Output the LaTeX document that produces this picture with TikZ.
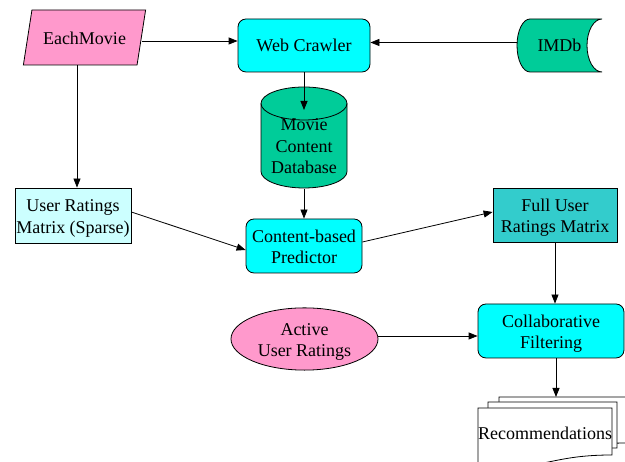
\documentclass[tikz,border=0pt]{standalone}
\usepackage{fontspec}
\setmainfont{Liberation Serif}
\usetikzlibrary{shapes.geometric,arrows.meta}
\definecolor{pinkfill}{HTML}{FF99CC}
\definecolor{cyanfill}{HTML}{00FFFF}
\definecolor{greenfill}{HTML}{00CC99}
\definecolor{palefill}{HTML}{CCFFFF}
\definecolor{tealfill}{HTML}{33CCCC}
\tikzset{flow/.style = {-{Triangle[length=9pt,width=7pt]}}}
\tikzset{proc/.style = {draw, fill=cyanfill, rounded corners=8pt, align=center, inner sep=0}}
\tikzset{grid box/.style = {draw, align=center, inner sep=0}}
\tikzset{bare/.style = {inner sep=0, align=center}}
\tikzset{two lines/.style = {text height=40pt, text depth=4pt}}

\begin{document}
\begin{tikzpicture}[x=1pt, y=1pt, line width=0.8pt, font=\fontsize{18}{21.5}\selectfont]
    \useasboundingbox (0,0) rectangle (625,462);
    \clip (0,0) rectangle (625,462);
    % shapes drawn directly
    \draw [fill=greenfill] (530,443) -- (602,443) arc [start angle=90, end angle=270, x radius=15, y radius=26.5]
        -- (530,390) arc [start angle=270, end angle=90, x radius=13, y radius=26.5] -- cycle;
    \draw [fill=greenfill] (261,358.5) -- (261,290.5) arc [start angle=180, end angle=360, x radius=43, y radius=16.5]
        -- (347,358.5) arc [start angle=0, end angle=180, x radius=43, y radius=16.5] -- cycle;
    \draw (261,358.5) arc [start angle=180, end angle=360, x radius=43, y radius=16.5];
    \draw [fill=white] (499,65) -- (627,65) -- (627,19) .. controls (563,19) and (563,1.5) .. (499,11.4) -- cycle;
    \draw [fill=white] (488,60) -- (617,60) -- (617,14) .. controls (552.5,14) and (552.5,-3.5) .. (488,6.4) -- cycle;
    \draw [fill=white] (478,54) -- (612,54) -- (612,7) .. controls (545,7) and (545,-10.9) .. (478,-0.7) -- cycle;
    % nodes
    \node [trapezium, trapezium left angle=66, trapezium right angle=114, trapezium stretches=true,
        draw, fill=pinkfill, minimum width=123, minimum height=55, inner sep=0, text height=15pt] (em) at (84.5,424.5) {EachMovie};
    \node [proc, minimum width=132, minimum height=53] (wc) at (304,416.5) {Web Crawler};
    \node [bare, minimum width=85, minimum height=53] (imdb) at (559.5,416.5) {IMDb};
    \node [bare, minimum width=86, minimum height=101] (mcd) at (304,324) {};
    \node [bare] (mcdtext) at (304,315.5) {Movie\\Content\\Database};
    \coordinate (mcdin) at (304,352);
    \node [grid box, two lines, fill=palefill, minimum width=116, minimum height=55] (urm) at (73,246.5) {User Ratings\\Matrix (Sparse)};
    \node [proc, two lines, minimum width=116, minimum height=54] (cbp) at (304,216) {Content-based\\Predictor};
    \node [grid box, two lines, fill=tealfill, minimum width=124, minimum height=54] (fur) at (555,247) {Full User\\Ratings Matrix};
    \node [ellipse, draw, two lines, fill=pinkfill, minimum width=147, minimum height=54, inner sep=0, align=center] (aur) at (304.5,123) {Active\\User Ratings};
    \node [proc, two lines, minimum width=146, minimum height=54] (cf) at (551,131) {Collaborative\\Filtering};
    \node [bare] (recs) at (545,29) {Recommendations};
    \coordinate (recstop) at (556,65);
    % connectors
    \draw [flow] ([yshift=-3.5pt]em.east) -- ([yshift=-3.5pt]em.east -| wc.west);
    \draw [flow] ([yshift=3pt]imdb.west) -- ([yshift=3pt]wc.east);
    \draw [flow] (wc.south) -- (mcdin);
    \draw [flow] (mcd.south) -- (cbp.north);
    \draw [flow] ([xshift=4pt]urm.north |- em.south) -- ([xshift=4pt]urm.north);
    \draw [flow] ([yshift=3.5pt]urm.east) -- ([yshift=-4pt]cbp.west);
    \draw [flow] ([yshift=4pt]cbp.east) -- ([yshift=3pt]fur.west);
    \draw [flow] (fur.south) -- (fur.south |- cf.north);
    \draw [flow] ([yshift=3pt]aur.east) -- ([yshift=3pt]aur.east -| cf.west);
    \draw [flow] (cf.south -| recstop) -- (recstop);
\end{tikzpicture}
\end{document}
